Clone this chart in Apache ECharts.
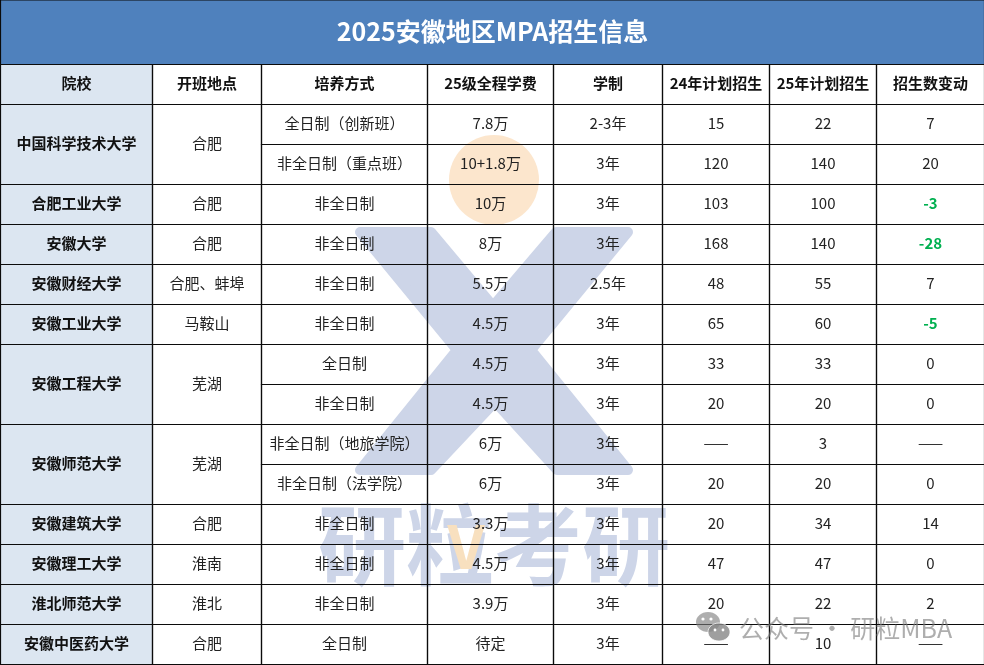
<!DOCTYPE html>
<html>
<head>
<meta charset="utf-8">
<title>2025安徽地区MPA招生信息</title>
<script src="https://cdn.jsdelivr.net/npm/echarts@6/dist/echarts.min.js"></script>
<style>
html, body { margin: 0; padding: 0; background: #fff; }
#main { width: 984px; height: 665px; }
</style>
</head>
<body>
<div id="main"></div>
<script>
var tableTitle = '2025安徽地区MPA招生信息';
var headers = ['院校', '开班地点', '培养方式', '25级全程学费', '学制', '24年计划招生', '25年计划招生', '招生数变动'];

// 院校、开班地点是合并单元格，schoolSpans 是每所学校占的行数
var schools = ['中国科学技术大学', '合肥工业大学', '安徽大学', '安徽财经大学', '安徽工业大学', '安徽工程大学', '安徽师范大学', '安徽建筑大学', '安徽理工大学', '淮北师范大学', '安徽中医药大学'];
var schoolSpans = [2, 1, 1, 1, 1, 2, 2, 1, 1, 1, 1];
var cities = ['合肥', '合肥', '合肥', '合肥、蚌埠', '马鞍山', '芜湖', '芜湖', '合肥', '淮南', '淮北', '合肥'];

var modes = ['全日制（创新班）', '非全日制（重点班）', '非全日制', '非全日制', '非全日制', '非全日制', '全日制', '非全日制', '非全日制（地旅学院）', '非全日制（法学院）', '非全日制', '非全日制', '非全日制', '全日制'];
var fees = ['7.8万', '10+1.8万', '10万', '8万', '5.5万', '4.5万', '4.5万', '4.5万', '6万', '6万', '3.3万', '4.5万', '3.9万', '待定'];
var years = ['2-3年', '3年', '3年', '3年', '2.5年', '3年', '3年', '3年', '3年', '3年', '3年', '3年', '3年', '3年'];
var plan24 = [15, 120, 103, 168, 48, 65, 33, 20, null, 20, 20, 47, 20, null];
var plan25 = [22, 140, 100, 140, 55, 60, 33, 20, 3, 20, 34, 47, 22, 10];
var changes = [7, 20, -3, -28, 7, -5, 0, 0, null, 0, 14, 0, 2, null];

// 列的分界线，x轴按像素
var colEdges = [0.5, 152.5, 261.5, 427.5, 553.5, 662.5, 769.5, 876.5, 984.5];
var titleRows = 1.6125;   // 标题栏高度，以行高为单位
var FONT = '"Noto Sans CJK SC", sans-serif';

function show(v) {
    return v === null ? '——' : String(v);
}

// 拼出所有单元格 [x0, x1, 行起, 行止, 文字, 类型]
var cells = [];
cells.push([colEdges[0], colEdges[8], -titleRows, 0, tableTitle, 'title']);
headers.forEach(function (h, i) {
    cells.push([colEdges[i], colEdges[i + 1], 0, 1, h, i === 0 ? 'headSchool' : 'head']);
});
var row = 1;
schools.forEach(function (s, i) {
    cells.push([colEdges[0], colEdges[1], row, row + schoolSpans[i], s, 'school']);
    cells.push([colEdges[1], colEdges[2], row, row + schoolSpans[i], cities[i], 'body']);
    row += schoolSpans[i];
});
modes.forEach(function (m, i) {
    var r = i + 1;
    var cols = [m, fees[i], years[i], show(plan24[i]), show(plan25[i]), show(changes[i])];
    cols.forEach(function (t, j) {
        var type = (j === 5 && changes[i] !== null && changes[i] < 0) ? 'down' : 'body';
        cells.push([colEdges[j + 2], colEdges[j + 3], r, r + 1, t, type]);
    });
});

var fills = { title: '#4F81BD', headSchool: '#DCE6F1', school: '#DCE6F1', head: '#fff', body: '#fff', down: '#fff' };
var textStyles = {
    title: { fill: '#fff', fontSize: 25, fontWeight: 'bold' },
    headSchool: { fill: '#111', fontSize: 15, fontWeight: 'bold' },
    head: { fill: '#111', fontSize: 15, fontWeight: 'bold' },
    school: { fill: '#111', fontSize: 15, fontWeight: 'bold' },
    body: { fill: '#222', fontSize: 15, fontWeight: 'normal' },
    down: { fill: '#00B050', fontSize: 15, fontWeight: 'bold' }
};

function cellBox(api) {
    var a = api.coord([api.value(0), api.value(2)]);
    var b = api.coord([api.value(1), api.value(3)]);
    return { x: a[0], y: a[1], width: b[0] - a[0], height: b[1] - a[1] };
}

function renderFill(params, api) {
    return {
        type: 'rect',
        shape: cellBox(api),
        style: { fill: fills[cells[params.dataIndex][5]] }
    };
}

function renderCell(params, api) {
    var box = cellBox(api);
    var item = cells[params.dataIndex];
    var st = textStyles[item[5]];
    return {
        type: 'group',
        children: [{
            type: 'rect',
            shape: box,
            style: { fill: 'none', stroke: '#0b0b0b', lineWidth: 1.2 }
        }, {
            type: 'text',
            style: {
                x: box.x + box.width / 2,
                y: box.y + box.height / 2 - 1,
                text: item[4],
                align: 'center',
                verticalAlign: 'middle',
                fill: st.fill,
                font: st.fontWeight + ' ' + st.fontSize + 'px ' + FONT
            }
        }]
    };
}

// 水印在单元格文字和线的下面
function renderWatermark() {
    var blue = '#CDD5E8';
    return {
        type: 'group',
        children: [{
            type: 'circle',
            shape: { cx: 494, cy: 180, r: 45 },
            style: { fill: '#FCE6CD' }
        }, {
            type: 'polygon',
            shape: {
                points: [[360, 232], [431, 232], [493, 306], [556, 232], [628, 232], [531, 350],
                         [628, 470], [557, 470], [495, 402], [431, 470], [360, 470], [457, 350]]
            },
            style: { fill: blue, stroke: blue, lineWidth: 10, lineJoin: 'round' }
        }, {
            type: 'text',
            style: {
                x: 494, y: 545, text: '研粒考研', align: 'center', verticalAlign: 'middle',
                fill: blue, font: 'bold 88px ' + FONT
            }
        }, {
            type: 'text',
            style: {
                x: 466, y: 546, text: 'V', align: 'center', verticalAlign: 'middle',
                fill: '#F8E0BF', font: 'bold 60px ' + FONT
            }
        }]
    };
}

// 右下角公众号水印，压在表格上面
function renderStamp() {
    var gray = 'rgba(125,125,125,0.62)';
    return {
        type: 'group',
        children: [
            { type: 'ellipse', shape: { cx: 708, cy: 622, rx: 12, ry: 10 }, style: { fill: gray } },
            { type: 'ellipse', shape: { cx: 719, cy: 632, rx: 11, ry: 9 }, style: { fill: 'rgba(135,135,135,0.8)', stroke: 'rgba(255,255,255,0.7)', lineWidth: 1 } },
            { type: 'circle', shape: { cx: 703, cy: 619, r: 1.6 }, style: { fill: '#fff' } },
            { type: 'circle', shape: { cx: 711, cy: 619, r: 1.6 }, style: { fill: '#fff' } },
            { type: 'circle', shape: { cx: 715, cy: 630, r: 1.4 }, style: { fill: '#fff' } },
            { type: 'circle', shape: { cx: 723, cy: 630, r: 1.4 }, style: { fill: '#fff' } },
            {
                type: 'text',
                style: {
                    x: 739, y: 628, text: '公众号 · 研粒MBA', align: 'left', verticalAlign: 'middle',
                    fill: gray, font: 'normal 25px ' + FONT
                }
            }
        ]
    };
}

var myChart = echarts.init(document.getElementById('main'));
var option = {
    animation: false,
    grid: { left: 0, right: 0, top: 0, bottom: 0 },
    xAxis: { type: 'value', min: 0, max: 984, show: false },
    yAxis: { type: 'value', inverse: true, min: -titleRows, max: 15.0125, show: false },
    series: [
        { type: 'custom', name: '底色', z: 1, silent: true, clip: false, data: cells, renderItem: renderFill,
          encode: { x: [0, 1], y: [2, 3] } },
        { type: 'custom', name: '水印', z: 2, silent: true, clip: false, data: [[0, 0]], renderItem: renderWatermark },
        { type: 'custom', name: '表格', z: 3, silent: true, clip: false, data: cells, renderItem: renderCell,
          encode: { x: [0, 1], y: [2, 3] } },
        { type: 'custom', name: '公众号', z: 4, silent: true, clip: false, data: [[0, 0]], renderItem: renderStamp }
    ]
};
myChart.setOption(option, true);

window.onresize = function () {
    myChart.resize();
};
</script>
</body>
</html>
